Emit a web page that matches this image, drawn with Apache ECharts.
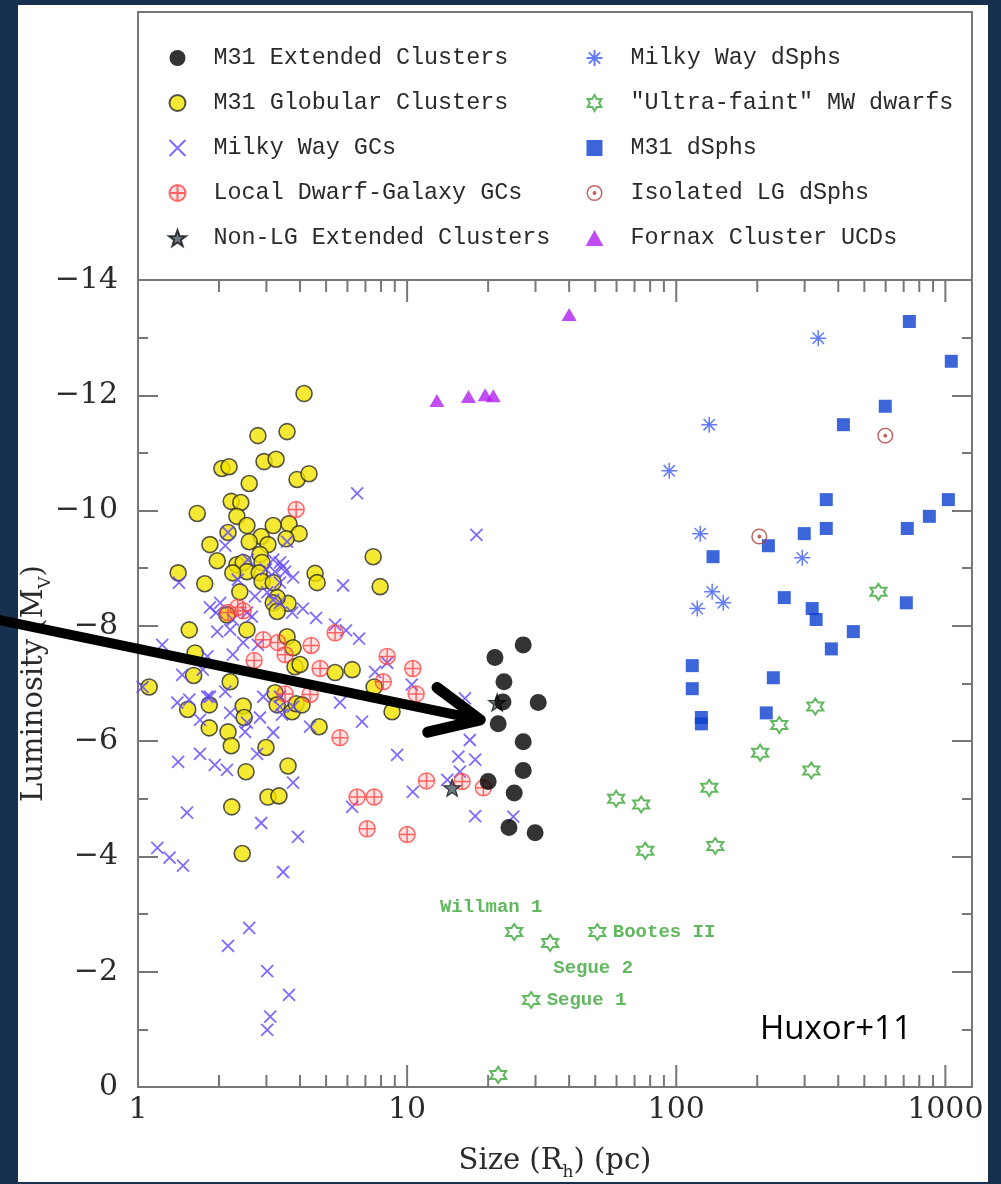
<!DOCTYPE html>
<html><head><meta charset="utf-8">
<script src="https://cdn.jsdelivr.net/npm/echarts@6/dist/echarts.min.js"></script>
<style>
html,body{margin:0;padding:0;background:#17304f;width:1001px;height:1184px;overflow:hidden}
#panel{position:absolute;left:18px;top:5px;width:970px;height:1177px;background:#fff}
#chart{position:absolute;left:0;top:0;width:1001px;height:1184px}
</style></head><body>
<div id="panel"></div><div id="chart"></div>
<script>
// ---------------- data (Size R_h in pc, Luminosity M_V) ----------------
const m31ECSize = [27.0,21.2,22.9,22.7,30.7,21.8,27.0,27.0,20.0,25.0,23.9,29.9];
const m31ECMag  = [-7.67,-7.45,-7.03,-6.68,-6.67,-6.30,-5.99,-5.49,-5.30,-5.10,-4.50,-4.41];

const m31GCSize = [4.14,2.79,3.58,2.05,2.18,2.94,3.26,2.59,3.90,4.32,
  2.22,2.41,1.66,2.33,2.54,3.18,3.64,3.97,3.55,2.87,
  2.16,2.59,3.04,1.85,1.97,1.41,1.77,7.48,7.94,4.55,
  4.63,3.61,2.39,2.33,2.46,2.54,2.84,2.89,2.82,2.89,
  3.18,3.29,3.18,3.29,1.55,2.14,2.54,3.58,3.77,3.83,
  1.63,1.61,1.10,2.20,3.23,3.29,2.46,2.48,3.74,1.53,
  1.84,1.84,2.16,2.22,2.52,2.99,3.61,3.04,3.34,2.23,
  2.44,4.71,8.79,5.40,6.25,3.87,2.25,7.54,4.00,4.07];
const m31GCMag = [-12.03,-11.30,-11.37,-10.73,-10.76,-10.85,-10.89,-10.47,-10.54,-10.64,
  -10.16,-10.14,-9.95,-9.90,-9.74,-9.74,-9.77,-9.60,-9.51,-9.55,
  -9.62,-9.46,-9.41,-9.41,-9.13,-8.92,-8.73,-9.20,-8.68,-8.91,
  -8.75,-8.39,-8.59,-9.06,-9.10,-8.94,-9.24,-9.10,-8.92,-8.77,
  -8.75,-8.49,-8.40,-8.25,-7.93,-8.19,-7.93,-7.81,-7.62,-7.29,
  -7.53,-7.14,-6.94,-7.03,-6.84,-6.63,-6.61,-6.41,-6.51,-6.55,
  -6.63,-6.23,-6.16,-5.92,-5.47,-5.89,-5.57,-5.03,-5.05,-4.86,
  -4.05,-6.25,-6.51,-7.19,-7.24,-6.65,-8.92,-6.94,-7.33,-6.63];

const mwGCSize = [6.52,18.1,2.16,3.58,2.11,1.42,5.78,3.37,3.18,3.52,
  3.23,3.37,4.10,4.59,5.40,5.93,6.63,1.23,1.85,1.95,
  2.54,2.65,2.25,1.81,3.37,3.18,1.40,1.55,1.81,1.70,
  1.41,1.70,1.93,2.14,2.77,3.18,2.50,2.84,3.43,3.77,
  4.36,5.63,6.80,9.18,7.60,10.4,16.4,17.1,15.5,17.9,
  15.7,14.1,10.5,6.25,17.9,24.8,1.52,2.87,3.93,1.18,
  1.31,1.47,3.46,2.59,2.16,3.02,3.64,3.10,3.02,2.02,
  2.20,2.46,2.25,1.74,1.46,1.85,2.11,2.92,3.37,2.20,
  2.54,3.37,3.77,3.46,3.77,3.02,3.74,1.97,2.79,1.04,
  8.43,2.56,2.99,2.72,2.35];
const mwGCMag = [-10.30,-9.58,-9.62,-9.46,-9.39,-8.75,-8.70,-9.10,-9.15,-8.94,
  -8.94,-8.75,-8.30,-8.14,-8.02,-7.92,-7.78,-7.67,-8.32,-8.23,
  -8.23,-8.16,-8.11,-7.47,-8.40,-8.45,-6.67,-6.72,-6.77,-6.37,
  -5.64,-5.78,-5.59,-5.50,-5.78,-6.15,-6.16,-6.41,-6.46,-5.28,
  -6.25,-6.67,-6.34,-5.76,-7.20,-6.98,-6.74,-6.02,-5.73,-5.68,
  -5.47,-5.33,-5.12,-4.86,-4.70,-4.69,-4.76,-4.58,-4.34,-4.15,
  -3.98,-3.84,-3.73,-2.76,-2.45,-2.01,-1.60,-1.22,-0.99,-8.40,
  -7.93,-7.71,-7.50,-7.24,-7.15,-6.77,-6.86,-6.77,-6.77,-6.49,
  -6.32,-6.60,-6.60,-9.03,-8.84,-8.58,-8.23,-7.90,-7.67,-6.94,
  -7.36,-9.15,-8.98,-8.51,-8.80];

const ldGCSize = [3.87,2.16,2.35,2.46,2.92,3.31,3.52,2.70,4.40,5.40,8.43,8.15,10.5,10.8,4.75,4.36,3.52,5.63,11.8,6.52,7.54,7.10,10.0,16.0,19.2];
const ldGCMag  = [-10.02,-8.23,-8.32,-8.26,-7.76,-7.71,-7.50,-7.40,-7.66,-7.88,-7.47,-7.03,-7.26,-6.82,-7.26,-6.81,-6.82,-6.06,-5.31,-5.03,-5.03,-4.48,-4.38,-5.30,-5.19];

const nonLGSize = [14.7,21.6];
const nonLGMag  = [-5.19,-6.67];

const mwDSphSize = [337,132.6,94.2,122.8,294,136,149.5,119.7];
const mwDSphMag  = [-12.99,-11.49,-10.69,-9.60,-9.18,-8.59,-8.40,-8.30];

const ufSize  = [564,328.6,241.5,205,317.6,132.6,59.8,74.1,76.7,139.6,25.0,34.0,50.9,28.9,21.8];
const ufMag   = [-8.59,-6.60,-6.28,-5.80,-5.49,-5.19,-5.00,-4.90,-4.10,-4.18,-2.69,-2.50,-2.69,-1.51,-0.21];
const ufNames = ['','','','','','','','','','','Willman 1','Segue 2','Bootes II','Segue 1',''];

const m31DSphSize = [735,1052,598,418,361,1026,872,361,722,299,220,137,252,320,331,455,377,716,114.7,114.7,229.5,216,124,124];
const m31DSphMag  = [-13.28,-12.59,-11.81,-11.49,-10.19,-10.19,-9.90,-9.69,-9.69,-9.60,-9.39,-9.20,-8.49,-8.30,-8.11,-7.90,-7.60,-8.40,-7.31,-6.91,-7.10,-6.49,-6.41,-6.30];

const isoSize = [598,203.5];
const isoMag  = [-11.30,-9.55];

const ucdSize = [12.9,16.9,19.5,20.9,40.0];
const ucdMag  = [-11.91,-11.98,-12.01,-11.99,-13.40];

const xMin = 1, xMax = 1256;
const yMin = -14, yMax = 0;
const xMajorTicks = [1,10,100,1000];
const xMinorTicks = [2,3,4,5,6,7,8,9,20,30,40,50,60,70,80,90,200,300,400,500,600,700,800,900];

const legendLeft  = ['M31 Extended Clusters','M31 Globular Clusters','Milky Way GCs','Local Dwarf-Galaxy GCs','Non-LG Extended Clusters'];
const legendRight = ['Milky Way dSphs','"Ultra-faint" MW dwarfs','M31 dSphs','Isolated LG dSphs','Fornax Cluster UCDs'];

const arrowTail = [0.307,-8.10];
const arrowTip  = [18.7,-6.37];

// ---------------- chart ----------------
const AX = '#777', TX = '#2a2a2a';
const SERIF = '"DejaVu Serif", serif';
const MONO = '"Liberation Mono", monospace';
const pts = (xs, ys) => xs.map((x, i) => [x, ys[i]]);

const SYM = {
  cross: 'path://M0,0L10,10M10,0L0,10',
  circPlus: 'path://M10,5A5,5,0,1,1,0,5A5,5,0,1,1,10,5ZM5,0L5,10M0,5L10,5',
  aster: 'path://M5,0L5,10M0,5L10,5M1.46,1.46L8.54,8.54M8.54,1.46L1.46,8.54',
  hexa: 'path://M5,0L6.443,2.5L9.33,2.5L7.887,5L9.33,7.5L6.443,7.5L5,10L3.557,7.5L0.67,7.5L2.113,5L0.67,2.5L3.557,2.5Z',
  iso: 'path://M10,5A5,5,0,1,1,0,5A5,5,0,1,1,10,5ZM9.1,5A4.1,4.1,0,1,0,0.9,5A4.1,4.1,0,1,0,9.1,5ZM6.2,5A1.2,1.2,0,1,1,3.8,5A1.2,1.2,0,1,1,6.2,5Z',
  star: 'path://M5,0L6.18,3.38L9.76,3.45L6.9,5.62L7.94,9.05L5,7L2.06,9.05L3.1,5.62L0.24,3.45L3.82,3.38Z',
  square: 'path://M0,0L10,0L10,10L0,10Z',
  tri: 'path://M5,0L10,9L0,9Z'
};

const labelPos = {
  'Willman 1': {position:'top', offset:[-23,0]},
  'Segue 2': {position:'bottom', offset:[43,0]},
  'Bootes II': {position:'right', offset:[0,0]},
  'Segue 1': {position:'right', offset:[0,0]}
};
const ufData = ufSize.map((x, i) => {
  const item = {value:[x, ufMag[i]], name: ufNames[i]};
  if (ufNames[i]) {
    item.label = Object.assign({show:true, formatter: ufNames[i], color:'#3aa636',
      fontFamily: MONO, fontSize:19, fontWeight:'bold', distance:5}, labelPos[ufNames[i]]);
  }
  return item;
});

const tickLine = {color: AX, width: 2};
const xLogBase = {
  type:'log', logBase:10, min:xMin, max:xMax,
  axisLine:{show:true, onZero:false, lineStyle:tickLine},
  axisTick:{show:false}, axisLabel:{show:false},
  splitLine:{show:false}, minorTick:{show:false}, minorSplitLine:{show:false}
};
const yBase = {
  type:'value', inverse:true, min:yMin, max:yMax, interval:2,
  axisLine:{show:true, onZero:false, lineStyle:tickLine},
  axisTick:{show:true, inside:true, length:20, lineStyle:tickLine},
  minorTick:{show:true, splitNumber:2, length:10, lineStyle:tickLine},
  splitLine:{show:false}, minorSplitLine:{show:false}
};
const nameStyle = {
  fontFamily: SERIF, fontSize: 29, color: TX, lineHeight: 40,
  rich: { sub: {fontFamily: SERIF, fontSize: 17, color: TX, verticalAlign:'bottom', lineHeight: 40} }
};

const legendCommon = {
  orient:'vertical', top:41, itemWidth:62, itemHeight:16, itemGap:21,
  selectedMode:false,
  textStyle:{fontFamily: MONO, fontSize:23.4, color:TX, lineHeight:24}
};

const option = {
  animation:false,
  backgroundColor:'transparent',
  grid:{left:138, right:29, top:280, bottom:97, containLabel:false, outerBoundsMode:'none'},
  legend:[
    Object.assign({}, legendCommon, {data: legendLeft, left:162}),
    Object.assign({}, legendCommon, {data: legendRight, left:579})
  ],
  xAxis:[
    Object.assign({}, xLogBase, {position:'bottom',
      axisLabel:{show:true, margin:8, fontFamily:SERIF, fontSize:30, color:TX,
        formatter: v => { const l = Math.log10(v); return Math.abs(l - Math.round(l)) < 1e-6 ? String(Math.round(v)) : ''; }},
      name:'Size (R{sub|h}) (pc)', nameLocation:'middle', nameGap:54, nameMoveOverlap:false, nameTextStyle:nameStyle}),
    Object.assign({}, xLogBase, {position:'top'})
  ],
  yAxis:[
    Object.assign({}, yBase, {position:'left',
      axisLabel:{show:true, margin:20, fontFamily:SERIF, fontSize:30, color:TX,
        formatter: v => v < 0 ? '\u2212' + Math.abs(v) : String(v)},
      name:'Luminosity (M{sub|V})', nameLocation:'middle', nameGap:84, nameMoveOverlap:false, nameTextStyle:nameStyle}),
    Object.assign({}, yBase, {position:'right', axisLabel:{show:false}})
  ],
  series:[
    {name:'M31 Globular Clusters', type:'scatter', data:pts(m31GCSize, m31GCMag), symbol:'circle', symbolSize:16,
      itemStyle:{color:'#f2e300', borderColor:'#2b2b2b', borderWidth:1.6}, silent:true},
    {name:'Milky Way GCs', type:'scatter', data:pts(mwGCSize, mwGCMag), symbol:SYM.cross, symbolSize:12,
      itemStyle:{color:'none', borderColor:'#5f46ff', borderWidth:1.8}, silent:true},
    {name:'Local Dwarf-Galaxy GCs', type:'scatter', data:pts(ldGCSize, ldGCMag), symbol:SYM.circPlus, symbolSize:16,
      itemStyle:{color:'rgba(255,90,90,0.22)', borderColor:'#ff4444', borderWidth:1.5}, silent:true},
    {name:'Non-LG Extended Clusters', type:'scatter', data:pts(nonLGSize, nonLGMag), symbol:SYM.star, symbolSize:17,
      itemStyle:{color:'#4a5c66', borderColor:'#111', borderWidth:1.2}, silent:true},
    {name:'M31 Extended Clusters', type:'scatter', data:pts(m31ECSize, m31ECMag), symbol:'circle', symbolSize:17,
      itemStyle:{color:'#000'}, silent:true},
    {name:'Milky Way dSphs', type:'scatter', data:pts(mwDSphSize, mwDSphMag), symbol:SYM.aster, symbolSize:16,
      itemStyle:{color:'none', borderColor:'#3d5cff', borderWidth:1.5}, silent:true},
    {name:'"Ultra-faint" MW dwarfs', type:'scatter', data:ufData, symbol:SYM.hexa, symbolSize:16,
      itemStyle:{color:'none', borderColor:'#3aa636', borderWidth:2}, silent:true},
    {name:'M31 dSphs', type:'scatter', data:pts(m31DSphSize, m31DSphMag), symbol:SYM.square, symbolSize:13,
      itemStyle:{color:'#0a3fcf'}, silent:true},
    {name:'Isolated LG dSphs', type:'scatter', data:pts(isoSize, isoMag), symbol:SYM.iso, symbolSize:16,
      itemStyle:{color:'#b03a3a'}, silent:true},
    {name:'Fornax Cluster UCDs', type:'scatter', data:pts(ucdSize, ucdMag), symbol:SYM.tri, symbolSize:[15,13],
      itemStyle:{color:'#b01ff0'}, silent:true}
  ],
  graphic:[
    {id:'legendBox', type:'rect', shape:{x:138, y:12, width:834, height:268},
      style:{fill:'none', stroke:AX, lineWidth:2}, silent:true},
    {id:'credit', type:'text', left:760, top:1013,
      style:{text:'Huxor+11', fontFamily:'"Open Sans", sans-serif', fontSize:33, fill:'#000'}, silent:true}
  ]
};

const chart = echarts.init(document.getElementById('chart'), null, {renderer:'canvas'});
chart.setOption(option);

// log-axis tick marks (major + minor), positioned through the x axis scale
const yBottom = chart.convertToPixel({yAxisIndex:0}, yMax);
const yTop = chart.convertToPixel({yAxisIndex:0}, yMin);
const tickEls = [];
const addTicks = (vals, len, tag) => vals.forEach((v, i) => {
  const px = chart.convertToPixel({xAxisIndex:0}, v);
  tickEls.push({id:'tb' + tag + i, type:'line', silent:true, z:5,
    shape:{x1:px, y1:yBottom, x2:px, y2:yBottom - len}, style:{stroke:AX, lineWidth:2}});
  tickEls.push({id:'tt' + tag + i, type:'line', silent:true, z:5,
    shape:{x1:px, y1:yTop, x2:px, y2:yTop + len}, style:{stroke:AX, lineWidth:2}});
});
addTicks(xMajorTicks, 22, 'M');
addTicks(xMinorTicks, 12, 'm');

const tail = chart.convertToPixel({seriesIndex:0}, arrowTail);
const tip = chart.convertToPixel({seriesIndex:0}, arrowTip);
const ang = Math.atan2(tail[1] - tip[1], tail[0] - tip[0]);
const hl = 54, ha = 25 * Math.PI / 180;
const h1 = [tip[0] + hl * Math.cos(ang + ha), tip[1] + hl * Math.sin(ang + ha)];
const h2 = [tip[0] + hl * Math.cos(ang - ha), tip[1] + hl * Math.sin(ang - ha)];
chart.setOption({graphic: tickEls.concat([
  {id:'arrowShaft', type:'line', z:100, silent:true,
    shape:{x1:tail[0], y1:tail[1], x2:tip[0], y2:tip[1]},
    style:{stroke:'#000', lineWidth:10, lineCap:'round'}},
  {id:'arrowHead', type:'polyline', z:100, silent:true,
    shape:{points:[h1, tip, h2]},
    style:{stroke:'#000', lineWidth:11, lineCap:'round', lineJoin:'round', fill:null}}
])});
</script></body></html>
